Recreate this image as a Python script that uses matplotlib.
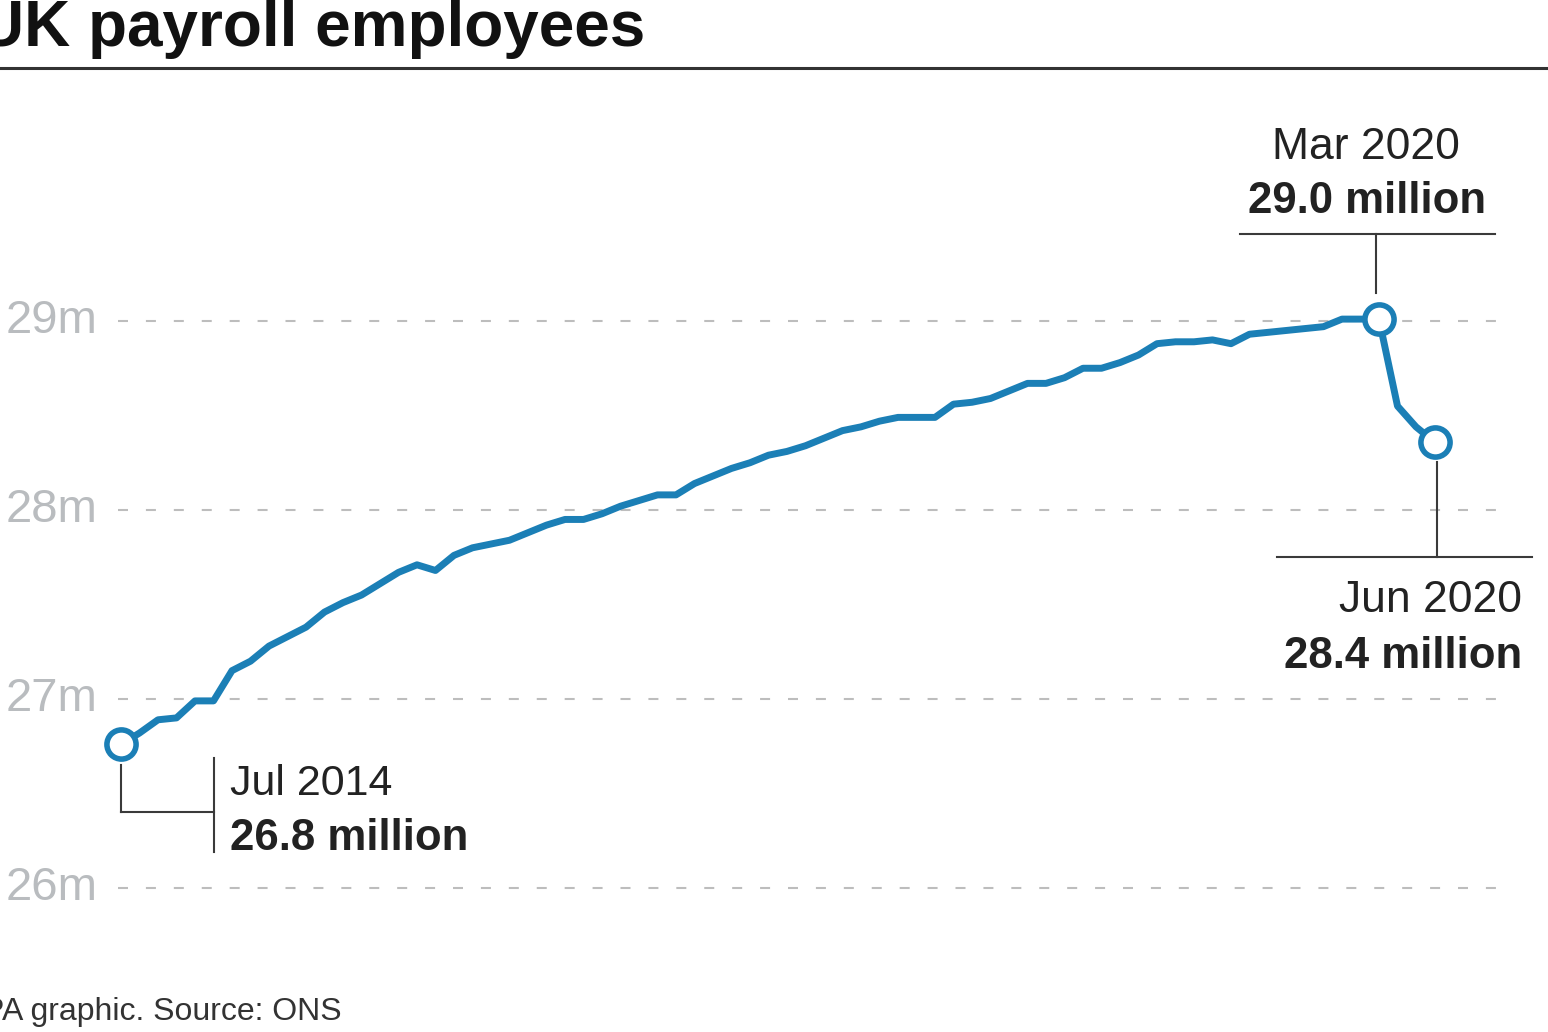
import matplotlib.pyplot as plt
import pandas as pd

# data (millions), monthly Jul 2014 - Jun 2020
months = pd.date_range("2014-07-01", "2020-06-01", freq="MS")
employees = [
    26.76, 26.82, 26.89, 26.90, 26.99, 26.99, 27.15, 27.20, 27.28, 27.33,
    27.38, 27.46, 27.51, 27.55, 27.61, 27.67, 27.71, 27.68, 27.76, 27.80,
    27.82, 27.84, 27.88, 27.92, 27.95, 27.95, 27.98, 28.02, 28.05, 28.08,
    28.08, 28.14, 28.18, 28.22, 28.25, 28.29, 28.31, 28.34, 28.38, 28.42,
    28.44, 28.47, 28.49, 28.49, 28.49, 28.56, 28.57, 28.59, 28.63, 28.67,
    28.67, 28.70, 28.75, 28.75, 28.78, 28.82, 28.88, 28.89, 28.89, 28.90,
    28.88, 28.93, 28.94, 28.95, 28.96, 28.97, 29.01, 29.01, 29.01, 28.55,
    28.44, 28.36,
]
y_ticks = [26, 27, 28, 29]
y_tick_labels = ["26m", "27m", "28m", "29m"]
callouts = {"start": ("Jul 2014", "26.8 million"),
            "peak": ("Mar 2020", "29.0 million"),
            "end": ("Jun 2020", "28.4 million")}

BLUE = "#1b7fb6"
GREY = "#b9bcbf"
DARK = "#222222"
FONT = "Liberation Sans"

W, H = 1548, 1032
X0, DX = 121, 18.5       # pixel of first point, pixels per month
Y29, PPM = 321, 189      # pixel of 29m, pixels per million

fig = plt.figure(figsize=(W / 100, H / 100), dpi=100)
ax = fig.add_axes([0, 0, 1, 1])
ax.axis("off")
ax.set_xlim(-X0 / DX, (W - X0) / DX)
ax.set_ylim(29 - (H - Y29) / PPM, 29 + Y29 / PPM)


def px(x, y):
    return (x - X0) / DX, 29 - (y - Y29) / PPM


xs = list(range(len(months)))

# gridlines + tick labels
for v, lab in zip(y_ticks, y_tick_labels):
    ax.plot([px(118, 0)[0], px(1505, 0)[0]], [v, v], color="#bdbdbd",
            lw=1.5, dashes=(4.8, 8.6), zorder=1)
    ax.text(px(98, 0)[0], v, lab, ha="right", va="center", color=GREY,
            fontsize=34, family=FONT)

ax.plot(xs, employees, color=BLUE, lw=5, solid_joinstyle="round",
        solid_capstyle="round", zorder=3)
for i in [0, 68, len(xs) - 1]:
    ax.plot(xs[i], employees[i], "o", ms=21, mfc="white", mec=BLUE, mew=4,
            zorder=4)

# callout lines
lc = "#3a3a3a"
def seg(x1, y1, x2, y2):
    a, b = px(x1, y1), px(x2, y2)
    ax.plot([a[0], b[0]], [a[1], b[1]], color=lc, lw=1.5, zorder=2)

seg(121, 765, 121, 812)
seg(121, 812, 214, 812)
seg(214, 758, 214, 852)
seg(1376, 234, 1376, 293)
seg(1240, 234, 1495, 234)
seg(1437, 462, 1437, 557)
seg(1277, 557, 1532, 557)


def txt(x, y, s, bold=False, ha="left", size=31):
    ax.text(*px(x, y), s, ha=ha, va="baseline", color=DARK, family=FONT,
            fontsize=size, fontweight="bold" if bold else "normal")

txt(230, 795, callouts["start"][0])
txt(230, 850, callouts["start"][1], bold=True, size=31.5)
txt(1366, 159, callouts["peak"][0], ha="center", size=32)
txt(1367, 213, callouts["peak"][1], bold=True, ha="center", size=31.5)
txt(1522, 612, callouts["end"][0], ha="right", size=32)
txt(1522, 668, callouts["end"][1], bold=True, ha="right", size=31.5)

# title, rule, footer
fig.text(-22 / W, 1 - 46 / H, "UK payroll employees", fontsize=46,
         fontweight="bold", color="#111111", family=FONT, va="baseline")
fig.add_artist(plt.Line2D([0, 1], [1 - 68 / H, 1 - 68 / H], color="#333333",
                          lw=2.2))
fig.text(-17 / W, 1 - 1020 / H, "PA graphic. Source: ONS", fontsize=23,
         color="#333333", family=FONT, va="baseline")

fig.savefig("out.png", dpi=100, facecolor="white")
